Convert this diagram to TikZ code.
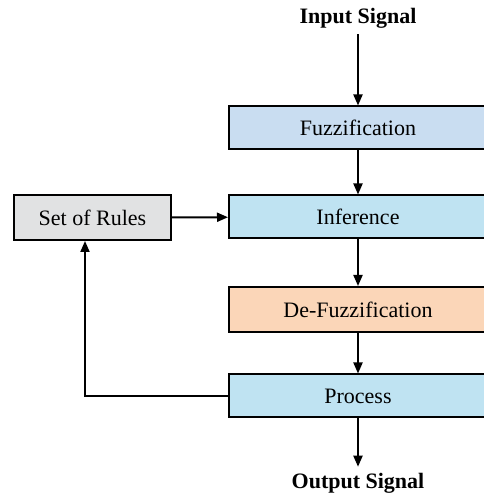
\documentclass[tikz,border=0pt]{standalone}
\usepackage{fontspec}
\setmainfont{Liberation Serif}
\usepackage{xcolor}
\usepackage{tikz}
\usetikzlibrary{arrows.meta}

\definecolor{fuzzblue}{HTML}{C9DDF1}
\definecolor{infblue}{HTML}{BFE3F2}
\definecolor{defuzzpeach}{HTML}{FBD6B8}
\definecolor{rulesgray}{HTML}{E1E2E3}

\begin{document}
\begin{tikzpicture}[x=1pt,y=1pt,
	block/.style={shape=rectangle,draw=black,line width=2pt,minimum width=258pt,minimum height=43pt,inner sep=0pt,font=\fontsize{22}{25}\selectfont},
	signal/.style={font=\fontsize{22}{25}\selectfont\bfseries,inner sep=6pt},
	flow/.style={line width=2pt,-{Triangle[length=11pt,width=9pt]}}]
	\useasboundingbox (0,0) rectangle (483,496);
	\node[signal] (in) at (358, 478) {Input Signal};
	\node[block,fill=fuzzblue] (fuzz) at (358, 368) {Fuzzification};
	\node[block,fill=infblue] (inf) at (358, 279) {Inference};
	\node[block,fill=defuzzpeach,minimum height=45pt] (defuzz) at (358, 186.5) {De-Fuzzification};
	\node[block,fill=infblue] (proc) at (358, 100) {Process};
	\node[block,fill=rulesgray,minimum width=157pt,minimum height=45pt] (rules) at (92.5, 278.5) {Set of Rules};
	\node[signal] (out) at (358, 13) {Output Signal};
	\coordinate (fb) at (85, 100);
	\path[flow] (in) edge (fuzz);
	\path[flow] (fuzz) edge (inf);
	\path[flow] (inf) edge (defuzz);
	\path[flow] (defuzz) edge (proc);
	\path[flow] (proc) edge (out);
	\path[flow] (rules) edge (inf);
	\draw[flow] (proc.west) -- (fb) -- (fb |- rules.south);
\end{tikzpicture}
\end{document}
